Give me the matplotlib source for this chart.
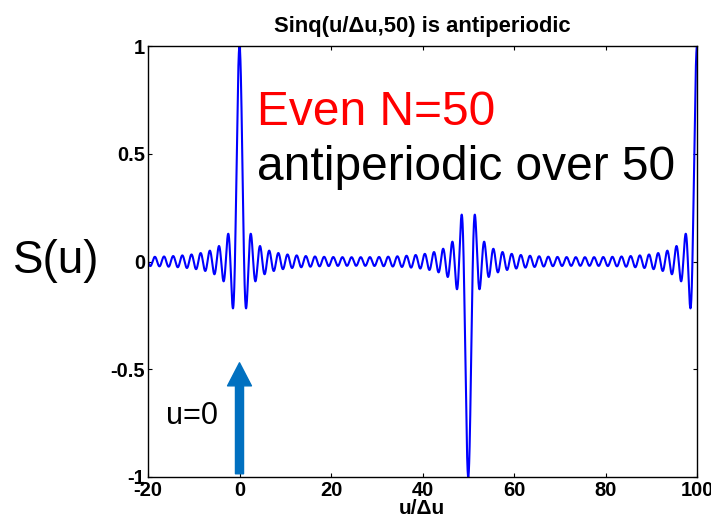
import numpy as np
import matplotlib
matplotlib.use("Agg")
import matplotlib.pyplot as plt

plt.rcParams['font.family'] = ['Liberation Sans', 'DejaVu Sans']
plt.rcParams['axes.unicode_minus'] = False

# Sinq(u/du, N) curve, as named in the chart title
N = 50
x_min, x_max = -20, 100
x_ticks = [-20, 0, 20, 40, 60, 80, 100]
y_ticks = [-1, -0.5, 0, 0.5, 1]
y_ticklabels = ["-1", "-0.5", "0", "0.5", "1"]

u = np.linspace(x_min, x_max, 6001)
den = N * np.sin(np.pi * u / N)
near = np.abs(den) < 1e-9
S = np.where(near, np.cos(np.pi * u) / np.cos(np.pi * u / N),
             np.sin(np.pi * u) / np.where(near, 1, den))

W, H = 711, 526
fig = plt.figure(figsize=(W / 100, H / 100), dpi=100)
ax = fig.add_axes([148 / W, 1 - 477 / H, (697 - 148) / W, (477 - 46) / H])

ax.plot(u, S, color="#0000ff", lw=1.5)
ax.set_xlim(x_min, x_max)
ax.set_ylim(-1, 1)
ax.set_xticks(x_ticks)
ax.set_yticks(y_ticks)
ax.set_yticklabels(y_ticklabels)
ax.tick_params(direction="in", length=3, labelsize=14.5, top=True, right=True)
ax.tick_params(axis="x", pad=3)
ax.tick_params(axis="y", pad=2)
for lab in ax.get_xticklabels() + ax.get_yticklabels():
    lab.set_fontweight("bold")
for s in ax.spines.values():
    s.set_linewidth(1.0)

def ftext(x, y, s, **kw):
    return fig.text(x / W, 1 - y / H, s, **kw)

ftext(422, 32, "Sinq(u/\u0394u,50) is antiperiodic", fontsize=15.8, fontweight="bold",
      ha="center", va="baseline")
ftext(422, 514, "u/\u0394u", fontsize=15, fontweight="bold", ha="center", va="baseline")
ftext(13, 273, "S(u)", fontsize=33, ha="left", va="baseline")

ftext(257, 125, "Even N=50", fontsize=34.5, color="red", ha="left", va="baseline")
ftext(257, 180, "antiperiodic over 50", fontsize=34.5, color="black", ha="left", va="baseline")

ax.annotate("", xy=(0, -0.47), xytext=(0, -0.985),
            arrowprops=dict(arrowstyle="simple,head_width=0.86,head_length=0.83,tail_width=0.29",
                            color="#0070c0", mutation_scale=20, shrinkA=0, shrinkB=0))
ftext(166, 424, "u=0", fontsize=22, ha="left", va="baseline")

fig.savefig("out.png", dpi=100)
